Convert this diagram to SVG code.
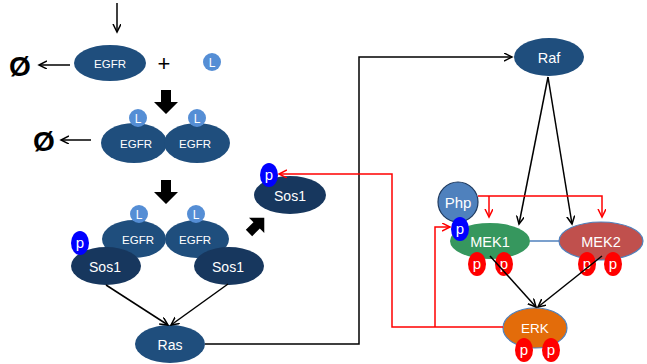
<svg xmlns="http://www.w3.org/2000/svg" width="647" height="364" viewBox="0 0 647 364">
<defs>
<style>
.t{font-family:"Liberation Sans","DejaVu Sans",sans-serif;fill:#fff;text-anchor:middle;dominant-baseline:central}
.egfr{fill:#1f4e7d}
.sos{fill:#17375e}
.lig{fill:#558ed5}
.pb{fill:#0000ff}
.pr{fill:#ff0000}
.blk{stroke:#000;stroke-width:1.5;fill:none}
.red{stroke:#ff0000;stroke-width:1.5;fill:none}
.blockarrow{fill:#000}
</style>
<marker id="ah" markerWidth="10" markerHeight="10" refX="8" refY="4" orient="auto" markerUnits="userSpaceOnUse">
<path d="M0,0 L8,4 L0,8" fill="none" stroke="#000" stroke-width="1.5"/>
</marker>
<marker id="ahr" markerWidth="10" markerHeight="10" refX="8" refY="4" orient="auto" markerUnits="userSpaceOnUse">
<path d="M0,0 L8,4 L0,8" fill="none" stroke="#ff0000" stroke-width="1.5"/>
</marker>
<polygon id="barrow" points="0,-5 12,-5 12,-12 24,0 12,12 12,5 0,5"/>
</defs>
<rect width="647" height="364" fill="#fff"/>

<g id="egfr-mono">
<ellipse class="egfr" cx="110" cy="63" rx="36" ry="18"/>
<text class="t" x="110" y="64" font-size="11.5">EGFR</text>
</g>
<g id="ligand">
<circle class="lig" cx="212" cy="62" r="9"/>
<text class="t" x="212" y="63" font-size="12">L</text>
</g>
<text id="plus" x="164" y="63" font-family="Liberation Sans,sans-serif" font-size="22" text-anchor="middle" dominant-baseline="central">+</text>
<g id="null1"><text x="20" y="66" font-family="Liberation Sans,sans-serif" font-size="28" font-weight="bold" text-anchor="middle" dominant-baseline="central">Ø</text></g>
<g id="null2"><text x="44" y="141" font-family="Liberation Sans,sans-serif" font-size="28" font-weight="bold" text-anchor="middle" dominant-baseline="central">Ø</text></g>

<g id="dimer1">
<ellipse class="egfr" cx="134" cy="143" rx="33" ry="20"/>
<ellipse class="egfr" cx="197" cy="143" rx="33" ry="20"/>
<circle class="lig" cx="138" cy="118" r="9"/>
<circle class="lig" cx="197" cy="118" r="9"/>
<text class="t" x="138" y="119" font-size="12">L</text>
<text class="t" x="197" y="119" font-size="12">L</text>
<text class="t" x="136" y="144" font-size="11.5">EGFR</text>
<text class="t" x="195" y="144" font-size="11.5">EGFR</text>
</g>

<g id="dimer2">
<ellipse class="egfr" cx="134" cy="239" rx="32" ry="19"/>
<ellipse class="egfr" cx="197" cy="239" rx="32" ry="19"/>
<circle class="lig" cx="139" cy="214" r="9"/>
<circle class="lig" cx="196" cy="214" r="9"/>
<text class="t" x="139" y="215" font-size="12">L</text>
<text class="t" x="196" y="215" font-size="12">L</text>
<text class="t" x="138" y="240" font-size="11.5">EGFR</text>
<text class="t" x="195" y="240" font-size="11.5">EGFR</text>
</g>
<g id="sos1-left">
<ellipse class="sos" cx="106" cy="266" rx="35" ry="19"/>
<text class="t" x="105" y="267" font-size="14">Sos1</text>
<ellipse class="pb" cx="80" cy="243" rx="9" ry="12"/>
<text class="t" x="80" y="242" font-size="15">p</text>
</g>
<g id="sos1-right">
<ellipse class="sos" cx="229" cy="266" rx="35" ry="19"/>
<text class="t" x="228" y="267" font-size="14">Sos1</text>
</g>
<g id="sos1-free">
<ellipse class="sos" cx="290" cy="195" rx="36" ry="19"/>
<text class="t" x="290" y="196" font-size="14">Sos1</text>
<ellipse class="pb" cx="269" cy="175" rx="9" ry="12"/>
<text class="t" x="269" y="174" font-size="15">p</text>
</g>
<g id="ras">
<ellipse class="egfr" cx="170" cy="344" rx="35" ry="19"/>
<text class="t" x="170" y="345" font-size="14">Ras</text>
</g>
<g id="raf">
<ellipse class="egfr" cx="549" cy="57" rx="35" ry="19"/>
<text class="t" x="549" y="58" font-size="14.5">Raf</text>
</g>
<g id="mek1">
<ellipse cx="490" cy="241" rx="40" ry="18" fill="#36975e"/>
<text class="t" x="490" y="242" font-size="14.5">MEK1</text>
<ellipse class="pr" cx="477" cy="264" rx="9" ry="12"/>
<ellipse class="pr" cx="504" cy="264" rx="9" ry="12"/>
<text class="t" x="477" y="263" font-size="15">p</text>
<text class="t" x="504" y="263" font-size="15">p</text>
</g>
<g id="php">
<circle cx="458" cy="202" r="20" fill="#4f81bd" stroke="#1f3a5f" stroke-width="1.2"/>
<text class="t" x="458" y="202" font-size="15">Php</text>
<ellipse class="pb" cx="460" cy="229" rx="9" ry="12"/>
<text class="t" x="460" y="228" font-size="15">p</text>
</g>
<g id="mek2">
<ellipse cx="601" cy="241" rx="42" ry="19" fill="#c0504d" stroke="#4f81bd" stroke-width="1.2"/>
<text class="t" x="601" y="242" font-size="14.5">MEK2</text>
<ellipse class="pr" cx="587" cy="264" rx="9" ry="12"/>
<ellipse class="pr" cx="613" cy="264" rx="9" ry="12"/>
<text class="t" x="587" y="263" font-size="15">p</text>
<text class="t" x="613" y="263" font-size="15">p</text>
</g>
<g id="erk">
<ellipse cx="535" cy="328" rx="32" ry="20" fill="#e36c0a" stroke="#4f81bd" stroke-width="1.2"/>
<text class="t" x="535" y="328" font-size="13.5">ERK</text>
<ellipse class="pr" cx="524" cy="350" rx="9" ry="12"/>
<ellipse class="pr" cx="551" cy="350" rx="9" ry="12"/>
<text class="t" x="524" y="349" font-size="15">p</text>
<text class="t" x="551" y="349" font-size="15">p</text>
</g>

<g id="connectors">
<line class="blk" x1="117" y1="3" x2="117" y2="32" marker-end="url(#ah)"/>
<line class="blk" x1="70" y1="65" x2="39" y2="65" marker-end="url(#ah)"/>
<line class="blk" x1="91" y1="140" x2="61" y2="140" marker-end="url(#ah)"/>
<use href="#barrow" class="blockarrow" transform="translate(166,90) rotate(90)"/>
<use href="#barrow" class="blockarrow" transform="translate(166,180) rotate(90)"/>
<use href="#barrow" class="blockarrow" transform="translate(249,233) rotate(-45) scale(0.9)"/>
<line class="blk" x1="106" y1="285" x2="168" y2="325" marker-end="url(#ah)"/>
<line class="blk" x1="228" y1="284" x2="171" y2="325" marker-end="url(#ah)"/>
<polyline class="blk" points="205,344 359,344 359,57 512,57" marker-end="url(#ah)"/>
<line class="blk" x1="548" y1="77" x2="519" y2="224" marker-end="url(#ah)"/>
<line class="blk" x1="548" y1="77" x2="572" y2="224" marker-end="url(#ah)"/>
<line x1="530" y1="241" x2="559" y2="241" stroke="#4f81bd" stroke-width="1.5"/>
<line class="blk" x1="490" y1="256" x2="536" y2="307" marker-end="url(#ah)"/>
<line class="blk" x1="602" y1="256" x2="538" y2="307" marker-end="url(#ah)"/>
<polyline class="red" points="503,327 392,327 392,174 279,174" marker-end="url(#ahr)"/>
<polyline class="red" points="435,327 435,227 450,227" marker-end="url(#ahr)"/>
<polyline class="red" points="478,196 602,196 602,217" marker-end="url(#ahr)"/>
<line class="red" x1="489" y1="196" x2="489" y2="217" marker-end="url(#ahr)"/>
</g>
</svg>
